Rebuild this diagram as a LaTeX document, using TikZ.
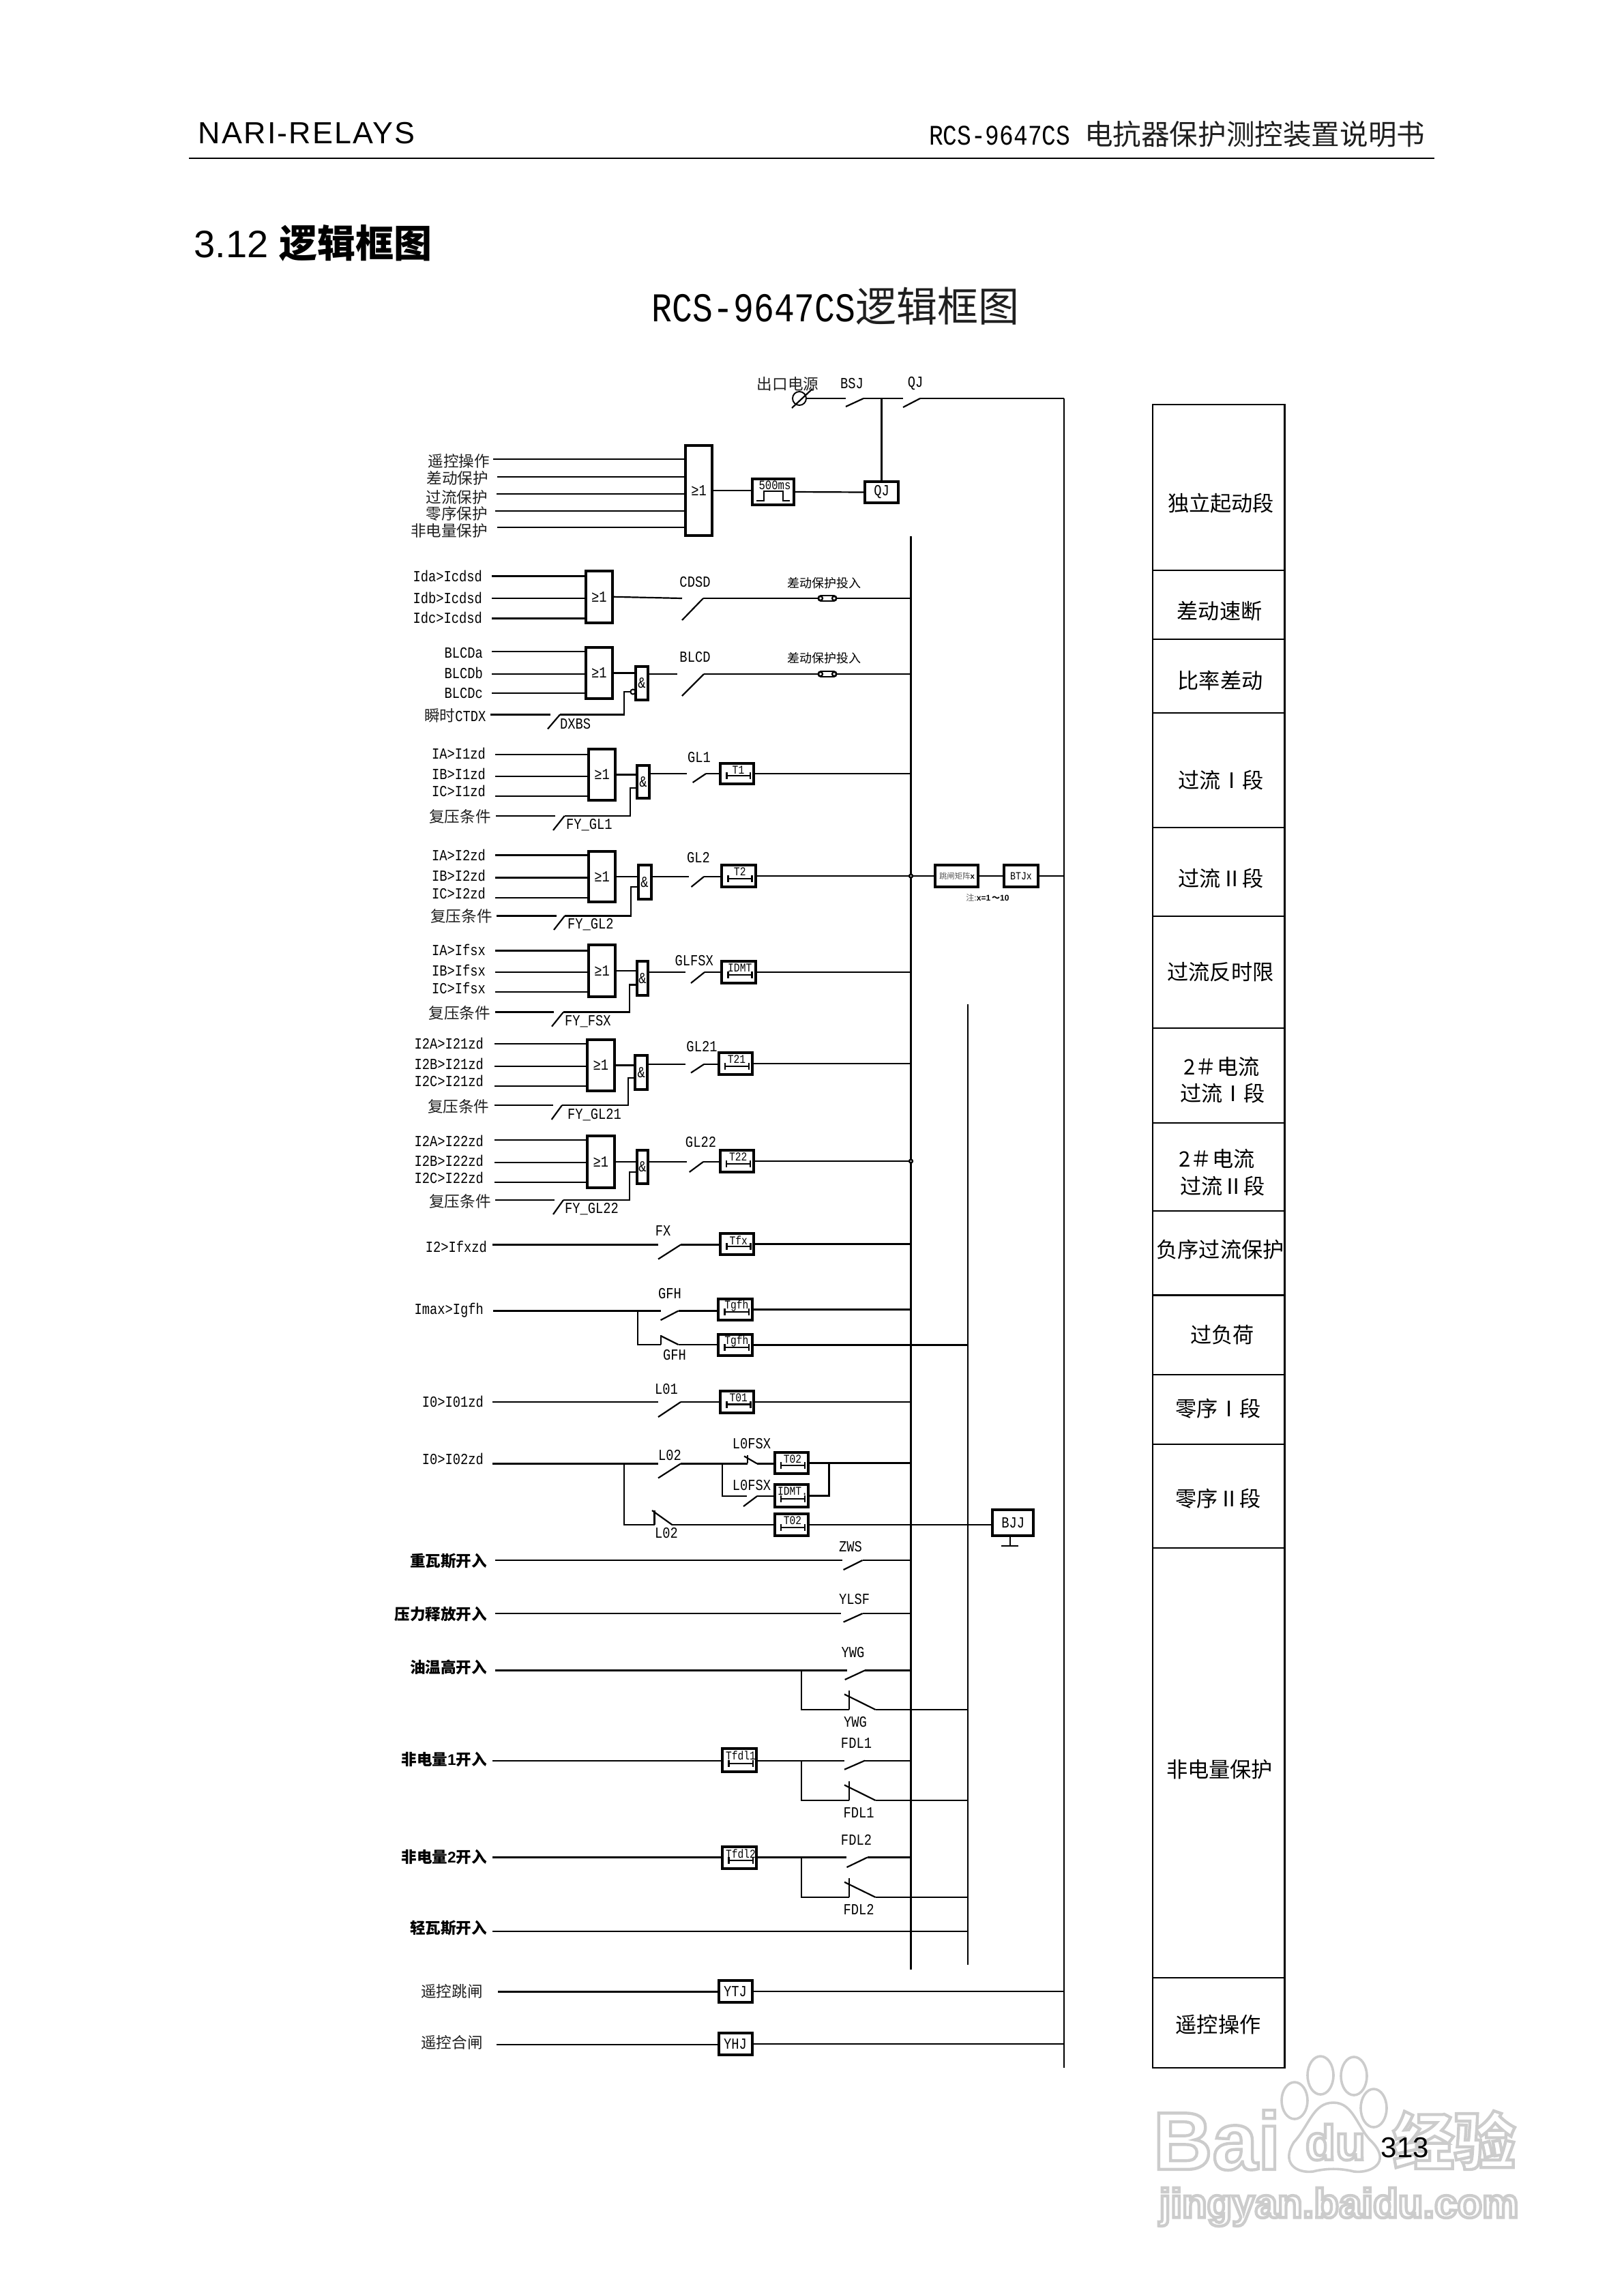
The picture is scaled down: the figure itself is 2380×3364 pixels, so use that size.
\documentclass[tikz,border=0pt]{standalone}
\usepackage{fontspec}
\setmainfont{Liberation Mono}
\newfontfamily\zhf{Noto Sans CJK SC}
\newfontfamily\monof[FakeStretch=0.83]{Liberation Mono}
\newfontfamily\arif{Liberation Sans}
\newfontfamily\arils[LetterSpace=5]{Liberation Sans}
\newcommand\zh[1]{{\zhf\color{black!88}#1}}
\newcommand\zhb[1]{{\zhf\bfseries #1}}
\newcommand\fs[1]{\fontsize{#1}{#1}\selectfont}
\newcommand\wmtext[1]{\special{pdf:code 1 Tr 1.1 w 0.8 G}#1\special{pdf:code 0 Tr}}
\tikzset{
  x=0.25pt,y=-0.25pt,
  wire/.style={line width=0.55pt,line cap=butt},
  txt/.style={inner sep=0pt,outer sep=0pt,font=\monof\fs{5.65}},
  small/.style={txt,font=\monof\fs{4.5}},
  tmrtxt/.style={txt,font=\monof\fs{4.4}},
  coltxt/.style={inner sep=0pt,outer sep=0pt,font=\zhf\fs{7.8},align=center,yshift=-0.5pt},
  gatebox/.style={draw,line width=1pt,inner sep=0pt,outer sep=0pt,fill=white,font=\monof\fs{5.65}},
  andbox/.style={gatebox},
  cell/.style={draw,line width=0.55pt,inner sep=0pt,outer sep=0pt},
  fusebox/.style={draw,line width=0.48pt,rounded corners=1pt,minimum width=6.8pt,minimum height=2pt,inner sep=0pt,outer sep=0pt,fill=white},
  dotn/.style={draw,circle,fill=white,line width=0.6pt,minimum size=1.2pt,inner sep=0pt,outer sep=0pt},
  termc/.style={draw,circle,line width=0.48pt,minimum size=5pt,inner sep=0pt,outer sep=0pt},
  wm/.style={draw=black!20,line width=0.9pt,fill=white},
}
\newcommand\mkbox[7][gatebox]{%
  \node[#1,minimum width={(#5-#3)*0.25pt},minimum height={(#6-#4)*0.25pt}] (#2) at ({(#3+#5)/2},{(#4+#6)/2}) {#7};}
\newcommand\mklab[5][center]{\node[txt,anchor=#1] (#2) at (#3,#4) {#5};}
\newcommand\mkin[7]{%
  \node[txt,anchor=east] (#1) at (#3,#4) {#2};
  \coordinate (#1-s) at (#5,#6);
  \draw[wire] (#1-s) -- (#1-s -| #7.west);}
% name, xin, xlow, ylow, xtop, ytop
\newcommand\mksw[6]{%
  \coordinate (#1-i) at (#2,#6);
  \coordinate (#1-o) at (#5,#6);
  \coordinate (#1-l) at (#3,#4);
  \draw[wire] (#1-l) -- (#1-o);}
% name, xtick, ytick, xs, ys, xe, ye
\newcommand\mknc[7]{%
  \coordinate (#1-i) at (#2,#7);
  \coordinate (#1-o) at (#6,#7);
  \coordinate (#1-u) at (#2,#3);
  \coordinate (#1-l) at (#4,#5);
  \draw[wire] (#1-u) -- (#1-i);
  \draw[wire] (#1-l) -- (#1-o);}
\newcommand\mktmr[6]{%
  \mkbox{#1}{#2}{#3}{#4}{#5}{}
  \node[tmrtxt] (#1-t) at ({(#2+#4)/2+2},{#3+10}) {#6};
  \coordinate (#1-l) at ({#2+9.5},{#5-12});
  \coordinate (#1-r) at ({#4-5},{#5-12});
  \draw[wire] (#1-l) -- (#1-r);
  \draw[wire] (#1-l)+(0,-5) -- +(0,5);
  \draw[wire] (#1-r)+(0,-5) -- +(0,5);}
\newcommand\mkfuse[3]{%
  \node[fusebox] (#1) at (#2,#3) {};
  \draw[wire] (#1.center)+(-10,0) circle[radius=3];
  \draw[wire] (#1.center)+(10,0) circle[radius=3];}
\begin{document}
\begin{tikzpicture}
\useasboundingbox (0,0) rectangle (2380,3364);
% ---------- watermark
\draw[wm] (1898,3079) ellipse[x radius=19,y radius=27];
\draw[wm] (1936,3042) ellipse[x radius=19,y radius=28];
\draw[wm] (1985,3043) ellipse[x radius=19,y radius=28];
\draw[wm] (2014,3090) ellipse[x radius=19,y radius=28];
\draw[wm] (1955,3082) .. controls (1985,3082) and (1990,3120) .. (2012,3140) .. controls (2040,3170) and (2010,3186) .. (1985,3183) .. controls (1965,3178) and (1945,3178) .. (1925,3183) .. controls (1900,3186) and (1878,3170) .. (1897,3140) .. controls (1920,3115) and (1925,3082) .. (1955,3082);
\node[inner sep=0pt,anchor=west,font=\arif\bfseries\fs{30}] (wmbai) at (1690,3137) {\wmtext{Bai}};
\node[inner sep=0pt,font=\arif\bfseries\fs{18}] (wmdu) at (1958,3140) {\wmtext{du}};
\node[inner sep=0pt,font=\zhf\bfseries\fs{22.5}] (wmzh) at (2132,3137) {\wmtext{经验}};
\node[inner sep=0pt,font=\arif\bfseries\fs{15}] (wmurl) at (1963,3235) {\wmtext{jingyan.baidu.com}};
% ---------- header
\node[inner sep=0pt,anchor=west,font=\arils\fs{11.2}] (hleft) at (290,195) {NARI-RELAYS};
\node[inner sep=0pt,anchor=east,font=\monof\fs{10.4}] (hright) at (2090,197) {RCS-9647CS \zh{电抗器保护测控装置说明书}};
\coordinate (rulea) at (277,232);
\coordinate (ruleb) at (2103,232);
\draw[line width=0.65pt] (rulea) -- (ruleb);
\node[inner sep=0pt,anchor=west,font=\arif\fs{14}] (sect) at (284,356) {3.12 \zhb{逻辑框图}};
\node[inner sep=0pt,anchor=west,font=\monof\fs{15}] (title) at (955,449) {RCS-9647CS\zh{逻辑框图}};
\node[inner sep=0pt,font=\arif\fs{10.5}] (pageno) at (2060,3148) {313};
% ---------- buses
\coordinate (bus1) at (1335.5,786);
\coordinate (bus1b) at (1335.5,2887);
\coordinate (bus2) at (1419,1472);
\coordinate (bus2b) at (1419,2880);
\coordinate (bus3) at (1560,584);
\coordinate (bus3b) at (1560,3031);
\draw[wire] (bus1) -- (bus1b);
\draw[wire] (bus2) -- (bus2b);
\draw[wire] (bus3) -- (bus3b);
% ---------- top row
\node[termc] (term) at (1172,584) {};
\draw[wire] ([shift={(-11,14)}]term.center) -- ([shift={(19,-14)}]term.center);
\mklab{tlab}{1155}{563}{\zh{出口电源}}
\mksw{bsj}{1240}{1240}{596}{1266}{584}
\mksw{qj}{1324}{1324}{597}{1349}{584}
\mklab{bsjlab}{1249}{562}{BSJ}
\mklab{qjlab}{1342}{562}{QJ}
\draw[wire] (term.east) -- (bsj-i);
\draw[wire] (bsj-o) -- (qj-i);
\draw[wire] (qj-o) -- (qj-o -| bus3);
% ---------- start gate
\mkbox{or0}{1005}{653}{1044}{785}{≥1}
\mkin{in1}{\zh{遥控操作}}{718}{676}{723}{673}{or0}
\mkin{in2}{\zh{差动保护}}{716}{701}{729}{699}{or0}
\mkin{in3}{\zh{过流保护}}{715}{729}{728}{724}{or0}
\mkin{in4}{\zh{零序保护}}{715}{753}{726}{749}{or0}
\mkin{in5}{\zh{非电量保护}}{715}{778}{729}{773}{or0}
\mkbox{pulse}{1103}{702}{1164}{740}{}
\node[txt,font=\monof\fs{4.7}] (ptxt) at (1136,711) {500ms};
\coordinate (pa) at (1109,734);
\coordinate (pb) at (1120,720);
\coordinate (pc) at (1148,734);
\coordinate (pd) at (1158,734);
\draw[wire] (pa) -- (pa -| pb) -- (pb) -- (pb -| pc) -- (pc) -- (pd);
\mkbox{qjb}{1268}{706}{1317}{737}{QJ}
\draw[wire] (or0.east) -- (or0.east -| pulse.west);
\draw[wire] (pulse.east) -- (qjb.west);
\draw[wire] (qjb.north) -- (qjb.north |- bsj-o);
% ---------- CDSD
\mkbox{cor}{858.5}{837}{898}{912.5}{≥1}
\mkin{cina}{Ida>Icdsd}{707}{844.5}{721}{844.5}{cor}
\mkin{cinb}{Idb>Icdsd}{707}{876}{721}{877}{cor}
\mkin{cinc}{Idc>Icdsd}{707}{905.6}{721}{906.5}{cor}
\mksw{csw}{1000}{1000}{909}{1031}{877}
\mklab{clab}{1019}{853}{CDSD}
\mkfuse{cfuse}{1213}{877}
\node[txt,font=\zhf\fs{4.5}] (cftxt) at (1208.5,855) {差动保护投入};
\draw[wire] (cor.east) -- (csw-i);
\draw[wire] (csw-o) -- (cfuse.west);
\draw[wire] (cfuse.east) -- (cfuse.east -| bus1);
% ---------- BLCD
\mkbox{bor}{858.5}{949}{898}{1024}{≥1}
\mkin{bina}{BLCDa}{708}{957}{721}{955}{bor}
\mkin{binb}{BLCDb}{708}{986}{721}{988}{bor}
\mkin{binc}{BLCDc}{708}{1016}{721}{1016}{bor}
\mkbox[andbox]{band}{932}{977}{950}{1026}{\&}
\mksw{bsw}{993}{1000}{1020}{1032}{988}
\mklab{blab}{1019}{963}{BLCD}
\mkfuse{bfuse}{1213}{988}
\node[txt,font=\zhf\fs{4.5}] (bftxt) at (1208.5,965) {差动保护投入};
\draw[wire] (bor.east) -- (bor.east -| band.west);
\draw[wire] (bsw-i -| band.east) -- (bsw-i);
\draw[wire] (bsw-o) -- (bfuse.west);
\draw[wire] (bfuse.east) -- (bfuse.east -| bus1);
\node[txt,anchor=east] (ct) at (712.5,1049) {\zh{瞬时}CTDX};
\coordinate (ct-s) at (719,1047.4);
\mksw{dx}{806.6}{803}{1068.5}{821}{1047.4}
\mklab[west]{dxlab}{821}{1061}{DXBS}
\node[draw,circle,line width=0.48pt,minimum size=1.8pt,inner sep=0pt,outer sep=0pt] (neg) at (928,1014) {};
\coordinate (negc) at (915,1014);
\draw[wire] (ct-s) -- (dx-i);
\draw[wire] (dx-o) -| (negc) -- (neg.west);
% ---------- GL1
\mkbox{aor}{863}{1098}{902}{1173}{≥1}
\mkin{aina}{IA>I1zd}{712}{1104}{726}{1106}{aor}
\mkin{ainb}{IB>I1zd}{712}{1134}{726}{1138}{aor}
\mkin{ainc}{IC>I1zd}{712}{1159}{726}{1167}{aor}
\mkbox[andbox]{aand}{934}{1122}{952}{1170}{\&}
\mksw{asw}{1007}{1015.6}{1147}{1035}{1134}
\mktmr{at}{1056}{1118.5}{1105}{1149}{T1}
\mklab{alab}{1025}{1110}{GL1}
\draw[wire] (aor.east) -- (aor.east -| aand.west);
\draw[wire] (asw-i -| aand.east) -- (asw-i);
\draw[wire] (asw-o) -- (asw-o -| at.west);
\draw[wire] (at.east) -- (at.east -| bus1);
\node[txt,anchor=east] (afy) at (719.6,1197) {\zh{复压条件}};
\coordinate (afy-s) at (727,1196);
\mksw{afs}{814}{811}{1217}{827.6}{1196}
\mklab[west]{aflab}{830}{1209}{FY\_GL1}
\coordinate (afc) at (924,1155);
\draw[wire] (afy-s) -- (afs-i);
\draw[wire] (afs-o) -| (afc) -- (afc -| aand.west);
% ---------- GL2
\mkbox{dor}{863}{1247.5}{902}{1322}{≥1}
\mkin{dina}{IA>I2zd}{712}{1253.5}{726}{1253.5}{dor}
\mkin{dinb}{IB>I2zd}{712}{1283}{726}{1286.5}{dor}
\mkin{dinc}{IC>I2zd}{712}{1309.5}{726}{1316}{dor}
\mkbox[andbox]{dand}{935.6}{1268}{954.6}{1318}{\&}
\mksw{dsw}{1010}{1013.5}{1300}{1032}{1285}
\mktmr{dt}{1058}{1268}{1107.5}{1300}{T2}
\mklab{dlab}{1024}{1257}{GL2}
\draw[wire] (dor.east) -- (dor.east -| dand.west);
\draw[wire] (dsw-i -| dand.east) -- (dsw-i);
\draw[wire] (dsw-o) -- (dsw-o -| dt.west);
\node[txt,anchor=east] (dfy) at (721.7,1343) {\zh{复压条件}};
\coordinate (dfy-s) at (728,1342.5);
\mksw{dfs}{815.7}{812}{1363}{828}{1342.5}
\mklab[west]{dflab}{832}{1355}{FY\_GL2}
\coordinate (dfc) at (925,1300);
\draw[wire] (dfy-s) -- (dfs-i);
\draw[wire] (dfs-o) -| (dfc) -- (dfc -| dand.west);
% trip matrix
\mkbox{mat}{1371}{1268}{1434}{1300}{}
\node[inner sep=0pt,outer sep=0pt,font=\zhf\fs{2.85}] (mattxt) at (1403,1284) {\textcolor{black!65}{跳闸矩阵}{\arif\bfseries x}};
\mkbox{btj}{1472}{1268}{1522}{1300}{\fs{4}BTJx}
\node[inner sep=0pt,outer sep=0pt,font=\zhf\fs{3}] (xnote) at (1448,1316) {\textcolor{black!65}{注:}{\arif\bfseries x=1}\,{\zhf\bfseries ～}{\arif\bfseries 10}};
\draw[wire] (dt.east) -- (mat.west);
\draw[wire] (mat.east) -- (btj.west);
\draw[wire] (btj.east) -- (btj.east -| bus3);
\node[dotn] (dot1) at (dt.east -| bus1) {};
% ---------- GLFSX
\mkbox{eor}{863}{1385}{902}{1460.5}{≥1}
\mkin{eina}{IA>Ifsx}{712}{1392}{726}{1393.5}{eor}
\mkin{einb}{IB>Ifsx}{712}{1422}{726}{1425}{eor}
\mkin{einc}{IC>Ifsx}{712}{1448}{726}{1454}{eor}
\mkbox[andbox]{eand}{933.5}{1409}{950.4}{1459}{\&}
\mksw{esw}{1005}{1013}{1441}{1033}{1425}
\mktmr{et}{1058}{1409}{1107.5}{1441}{IDMT}
\mklab{elab}{1017.7}{1408}{GLFSX}
\draw[wire] (eor.east) -- (eor.east -| eand.west);
\draw[wire] (esw-i -| eand.east) -- (esw-i);
\draw[wire] (esw-o) -- (esw-o -| et.west);
\draw[wire] (et.east) -- (et.east -| bus1);
\node[txt,anchor=east] (efy) at (719,1485) {\zh{复压条件}};
\coordinate (efy-s) at (726,1483.5);
\mksw{efs}{812}{809}{1504.6}{826}{1483.5}
\mklab[west]{eflab}{828}{1497}{FY\_FSX}
\coordinate (efc) at (923,1443.5);
\draw[wire] (efy-s) -- (efs-i);
\draw[wire] (efs-o) -| (efc) -- (efc -| eand.west);
% ---------- GL21
\mkbox{for}{861}{1524}{900.5}{1599}{≥1}
\mkin{fina}{I2A>I21zd}{709}{1529}{724.5}{1530}{for}
\mkin{finb}{I2B>I21zd}{709}{1559}{724.5}{1563}{for}
\mkin{finc}{I2C>I21zd}{709}{1584}{724.5}{1592}{for}
\mkbox[andbox]{fand}{931.4}{1547}{949}{1597}{\&}
\mksw{fsw}{1005}{1013}{1572.5}{1032}{1560}
\mktmr{ft}{1053.5}{1542.7}{1102.6}{1575}{T21}
\mklab{flab}{1029}{1534}{GL21}
\draw[wire] (for.east) -- (for.east -| fand.west);
\draw[wire] (fsw-i -| fand.east) -- (fsw-i);
\draw[wire] (fsw-o) -- (fsw-o -| ft.west);
\draw[wire] (ft.east) -- (ft.east -| bus1);
\node[txt,anchor=east] (ffy) at (717.5,1621.6) {\zh{复压条件}};
\coordinate (ffy-s) at (724.5,1620);
\mksw{ffs}{811}{808.7}{1641}{824}{1620}
\mklab[west]{fflab}{832}{1634}{FY\_GL21}
\coordinate (ffc) at (921,1580);
\draw[wire] (ffy-s) -- (ffs-i);
\draw[wire] (ffs-o) -| (ffc) -- (ffc -| fand.west);
% ---------- GL22
\mkbox{gor}{861}{1665}{900.5}{1740.5}{≥1}
\mkin{gina}{I2A>I22zd}{709}{1672}{724.5}{1671}{gor}
\mkin{ginb}{I2B>I22zd}{709}{1701}{724.5}{1704}{gor}
\mkin{ginc}{I2C>I22zd}{709}{1726}{724.5}{1733}{gor}
\mkbox[andbox]{gand}{933.5}{1686}{950.4}{1735}{\&}
\mksw{gsw}{1006.5}{1010.7}{1718}{1031}{1703}
\mktmr{gt}{1055.6}{1686}{1104.7}{1718}{T22}
\mklab{glab}{1027.5}{1674}{GL22}
\draw[wire] (gor.east) -- (gor.east -| gand.west);
\draw[wire] (gsw-i -| gand.east) -- (gsw-i);
\draw[wire] (gsw-o) -- (gsw-o -| gt.west);
\draw[wire] (gt.east) -- (gt.east -| bus1);
\node[dotn] (dot2) at (gt.east -| bus1) {};
\node[txt,anchor=east] (gfy) at (719.6,1760.7) {\zh{复压条件}};
\coordinate (gfy-s) at (726,1759);
\mksw{gfs}{813}{811}{1780}{826}{1759}
\mklab[west]{gflab}{828}{1772}{FY\_GL22}
\coordinate (gfc) at (923,1718);
\draw[wire] (gfy-s) -- (gfs-i);
\draw[wire] (gfs-o) -| (gfc) -- (gfc -| gand.west);
% ---------- FX
\mklab[east]{fxin}{714}{1827}{I2>Ifxzd}
\coordinate (fxin-s) at (721.7,1824.5);
\mksw{fxs}{965}{965}{1845.6}{998}{1824.5}
\mktmr{fxt}{1056}{1808}{1105.4}{1839}{Tfx}
\mklab{fxlab}{972}{1804}{FX}
\draw[wire] (fxin-s) -- (fxs-i);
\draw[wire] (fxs-o) -- (fxs-o -| fxt.west);
\draw[wire] (fxt.east) -- (fxt.east -| bus1);
% ---------- GFH
\mklab[east]{gfin}{709}{1921}{Imax>Igfh}
\coordinate (gfin-s) at (723,1921.4);
\mksw{gfa}{968.6}{968.6}{1935}{994.6}{1921.4}
\mktmr{gfta}{1053}{1904}{1102.6}{1935}{Tgfh}
\mklab{gfl1}{982}{1895.7}{GFH}
\coordinate (gfj) at (935,1921.4);
\mknc{gfb}{968.6}{1957}{968.6}{1958}{994.6}{1971}
\mktmr{gftb}{1053}{1956}{1102.6}{1987}{Tgfh}
\mklab{gfl2}{989}{1985.6}{GFH}
\draw[wire] (gfin-s) -- (gfa-i);
\draw[wire] (gfa-o) -- (gfa-o -| gfta.west);
\draw[wire] (gfta.east) -- (gfta.east -| bus1);
\draw[wire] (gfj) |- (gfb-i);
\draw[wire] (gfb-o) -- (gfb-o -| gftb.west);
\draw[wire] (gftb.east) -- (gftb.east -| bus2);
% ---------- L01
\mklab[east]{loin}{709}{2054.5}{I0>I01zd}
\coordinate (loin-s) at (721.7,2055);
\mksw{los}{965}{965}{2077}{998}{2055}
\mktmr{lot}{1056}{2039}{1105.4}{2070.5}{T01}
\mklab{lolab}{977}{2036}{L01}
\draw[wire] (loin-s) -- (los-i);
\draw[wire] (los-o) -- (los-o -| lot.west);
\draw[wire] (lot.east) -- (lot.east -| bus1);
% ---------- L02
\mklab[east]{ltin}{709}{2138}{I0>I02zd}
\coordinate (ltin-s) at (721.7,2145.4);
\mksw{lts}{965}{965}{2166.5}{998}{2145.4}
\mklab{ltlab}{982}{2133.4}{L02}
\mknc{lfa}{1096}{2133.4}{1091}{2134.4}{1110}{2145.4}
\mktmr{lfat}{1135.5}{2129}{1184.7}{2160}{T02}
\mklab{lfal}{1102}{2116.4}{L0FSX}
\coordinate (ltj) at (1059,2145.4);
\mksw{lfb}{1095}{1090}{2208}{1110}{2193}
\mktmr{lfbt}{1135.5}{2176}{1184.7}{2209}{IDMT.}
\mklab{lfbl}{1102}{2177}{L0FSX}
\coordinate (ltk) at (1215.5,2144.5);
\draw[wire] (ltin-s) -- (lts-i);
\draw[wire] (lts-o) -- (lfa-i);
\draw[wire] (lfa-o) -- (lfa-o -| lfat.west);
\draw[wire] (lfat.east) -- (lfat.east -| bus1);
\draw[wire] (ltj) |- (lfb-i);
\draw[wire] (lfb-o) -- (lfb-o -| lfbt.west);
\draw[wire] (lfbt.east) -| (ltk);
\coordinate (ltm) at (915,2145.4);
\mknc{ltb}{959.5}{2214}{956}{2214}{985.4}{2235}
\mktmr{ltbt}{1135.5}{2219}{1184.7}{2251}{T02}
\mklab{ltbl}{977}{2247}{L02}
\mkbox{bjj}{1455.4}{2213}{1515}{2251}{BJJ}
\coordinate (gnd) at (1480.7,2265.6);
\coordinate (gnda) at (1468,2265.6);
\coordinate (gndb) at (1493,2265.6);
\draw[wire] (ltm) |- (ltb-i);
\draw[wire] (ltb-o) -- (ltb-o -| ltbt.west);
\draw[wire] (ltbt.east) -- (ltbt.east -| bjj.west);
\draw[wire] (gnd |- bjj.south) -- (gnd);
\draw[wire] (gnda) -- (gndb);
% ---------- ZWS, YLSF
\node[txt,anchor=east] (zin) at (714,2288) {\zhb{重瓦斯开入}};
\coordinate (zin-s) at (726,2287);
\mksw{zs}{1235}{1236.6}{2301}{1264.6}{2287}
\mklab{zlab}{1247}{2267.5}{ZWS}
\draw[wire] (zin-s) -- (zs-i);
\draw[wire] (zs-o) -- (zs-o -| bus1);
\node[txt,anchor=east] (yin) at (714,2366) {\zhb{压力释放开入}};
\coordinate (yin-s) at (726,2365);
\mksw{ys}{1233}{1236.6}{2377.6}{1264.6}{2365}
\mklab{ylab}{1252.7}{2343.6}{YLSF}
\draw[wire] (yin-s) -- (ys-i);
\draw[wire] (ys-o) -- (ys-o -| bus1);
% ---------- YWG
\node[txt,anchor=east] (win) at (714,2444) {\zhb{油温高开入}};
\coordinate (win-s) at (726,2448.4);
\mksw{wa}{1241.5}{1238.7}{2462}{1268}{2448.4}
\mklab{wal}{1250.6}{2422}{YWG}
\coordinate (wj) at (1175,2448.4);
\mknc{wb}{1245}{2478}{1238}{2483.4}{1283.6}{2506}
\mklab{wbl}{1254}{2524}{YWG}
\draw[wire] (win-s) -- (wa-i);
\draw[wire] (wa-o) -- (wa-o -| bus1);
\draw[wire] (wj) |- (wb-i);
\draw[wire] (wb-o) -- (wb-o -| bus2);
% ---------- FDL1
\node[txt,anchor=east] (ain) at (714,2579) {\zhb{非电量}{\arif\bfseries 1}\zhb{开入}};
\coordinate (ain-s) at (722.4,2580.6);
\mktmr{ta}{1059}{2563}{1109}{2596.6}{Tfdl1}
\mksw{fa}{1238}{1238}{2593.7}{1268}{2580.6}
\mklab{fal}{1255.5}{2555}{FDL1}
\coordinate (aj) at (1175,2580.6);
\mknc{fb}{1245}{2610.5}{1238}{2616.4}{1283.6}{2639}
\mklab{fbl}{1259}{2657}{FDL1}
\draw[wire] (ain-s) -- (ain-s -| ta.west);
\draw[wire] (fa-i -| ta.east) -- (fa-i);
\draw[wire] (fa-o) -- (fa-o -| bus1);
\draw[wire] (aj) |- (fb-i);
\draw[wire] (fb-o) -- (fb-o -| bus2);
% ---------- FDL2
\node[txt,anchor=east] (bin) at (714,2722) {\zhb{非电量}{\arif\bfseries 2}\zhb{开入}};
\coordinate (bin-s) at (722.4,2722.5);
\mktmr{tb}{1059}{2707}{1109}{2739}{Tfdl2}
\mksw{fc}{1241}{1241.5}{2737}{1271.7}{2722.5}
\mklab{fcl}{1255.5}{2697}{FDL2}
\coordinate (cj) at (1175,2722.5);
\mknc{fd}{1245}{2753}{1238}{2758.7}{1283.6}{2781}
\mklab{fdl}{1259}{2799}{FDL2}
\draw[wire] (bin-s) -- (bin-s -| tb.west);
\draw[wire] (fc-i -| tb.east) -- (fc-i);
\draw[wire] (fc-o) -- (fc-o -| bus1);
\draw[wire] (cj) |- (fd-i);
\draw[wire] (fd-o) -- (fd-o -| bus2);
% ---------- light gas
\node[txt,anchor=east] (qin) at (714,2826) {\zhb{轻瓦斯开入}};
\coordinate (qin-s) at (722,2830.7);
\draw[wire] (qin-s) -- (qin-s -| bus2);
% ---------- remote
\mkbox{ytj}{1053.5}{2903}{1102.6}{2934.7}{YTJ}
\mkin{rin1}{\zh{遥控跳闸}}{707.6}{2918.7}{730}{2919.5}{ytj}
\draw[wire] (ytj.east) -- (ytj.east -| bus3);
\mkbox{yhj}{1053.5}{2980}{1102.6}{3012}{YHJ}
\mkin{rin2}{\zh{遥控合闸}}{707.6}{2993.6}{728}{2996.6}{yhj}
\draw[wire] (yhj.east) -- (yhj.east -| bus3);
% ---------- right column
\mkbox[cell]{c1}{1690}{593}{1883.5}{836}{}
\mkbox[cell]{c2}{1690}{836}{1883.5}{936.6}{}
\mkbox[cell]{c3}{1690}{936.6}{1883.5}{1045}{}
\mkbox[cell]{c4}{1690}{1045}{1883.5}{1213}{}
\mkbox[cell]{c5}{1690}{1213}{1883.5}{1343}{}
\mkbox[cell]{c6}{1690}{1343}{1883.5}{1507}{}
\mkbox[cell]{c7}{1690}{1507}{1883.5}{1646}{}
\mkbox[cell]{c8}{1690}{1646}{1883.5}{1775}{}
\mkbox[cell]{c9}{1690}{1775}{1883.5}{1898.5}{}
\mkbox[cell]{c10}{1690}{1898.5}{1883.5}{2014.6}{}
\mkbox[cell]{c11}{1690}{2014.6}{1883.5}{2117}{}
\mkbox[cell]{c12}{1690}{2117}{1883.5}{2269}{}
\mkbox[cell]{c13}{1690}{2269}{1883.5}{2899}{}
\mkbox[cell]{c14}{1690}{2899}{1883.5}{3031}{}
\node[coltxt] (t1) at (1790,736) {独立起动段};
\node[coltxt] (t2) at (1788,894) {差动速断};
\node[coltxt] (t3) at (1789,995.5) {比率差动};
\node[coltxt] (t4) at (1790,1141.7) {过流Ⅰ段};
\node[coltxt] (t5) at (1790,1286) {过流Ⅱ段};
\node[coltxt] (t6) at (1789.5,1423) {过流反时限};
\node[coltxt] (t7a) at (1791,1562) {2＃电流};
\node[coltxt] (t7b) at (1792.5,1601) {过流Ⅰ段};
\node[coltxt] (t8a) at (1784,1696.5) {2＃电流};
\node[coltxt] (t8b) at (1792.5,1737) {过流Ⅱ段};
\node[coltxt] (t9) at (1789,1830) {负序过流保护};
\node[coltxt] (t10) at (1792,1955) {过负荷};
\node[coltxt] (t11) at (1786,2062.6) {零序Ⅰ段};
\node[coltxt] (t12) at (1786,2195) {零序Ⅱ段};
\node[coltxt] (t13) at (1788,2592) {非电量保护};
\node[coltxt] (t14) at (1786,2966) {遥控操作};
\end{tikzpicture}
\end{document}
